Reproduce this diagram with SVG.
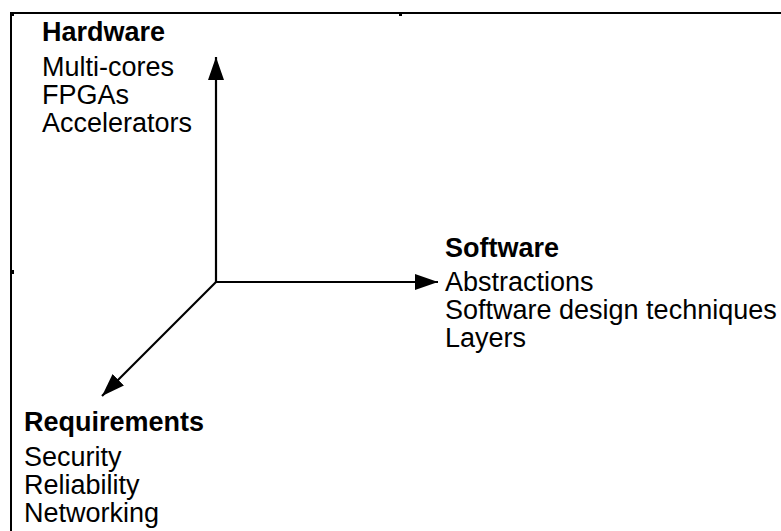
<svg xmlns="http://www.w3.org/2000/svg" width="781" height="531" viewBox="0 0 781 531">
<style>
.t{font-family:"Liberation Sans",Arial,sans-serif;font-size:27px;fill:#000}
.b{font-weight:bold}
.ax{stroke:#000;stroke-width:2.2;fill:none}
</style>
<defs>
<marker id="ah" markerWidth="26" markerHeight="18" refX="23" refY="8" orient="auto" markerUnits="userSpaceOnUse">
<path d="M0,0 L23,8 L0,16 Z" fill="#000"/>
</marker>
</defs>
<rect width="781" height="531" fill="#fff"/>
<g id="frame">
<line x1="10" y1="13" x2="781" y2="13" stroke="#000" stroke-width="2"/>
<line x1="11" y1="13" x2="11" y2="531" stroke="#000" stroke-width="2"/>
<rect x="10" y="12" width="4" height="4" fill="#000"/>
<rect x="399" y="13" width="3" height="3" fill="#000"/>
<rect x="10" y="270" width="4" height="4" fill="#000"/>
</g>
<g id="connectors">
<line class="ax" x1="216" y1="283" x2="216" y2="57" marker-end="url(#ah)"/>
<line class="ax" x1="215" y1="282" x2="438" y2="282" marker-end="url(#ah)"/>
<line class="ax" x1="216" y1="282" x2="102" y2="396" marker-end="url(#ah)"/>
</g>
<g id="hardware">
<text class="t b" x="42" y="41">Hardware</text>
<text class="t" x="42" y="76">Multi-cores</text>
<text class="t" x="42" y="104">FPGAs</text>
<text class="t" x="42" y="132">Accelerators</text>
</g>
<g id="software">
<text class="t b" x="445" y="257">Software</text>
<text class="t" x="445" y="291">Abstractions</text>
<text class="t" x="445" y="319">Software design techniques</text>
<text class="t" x="445" y="347">Layers</text>
</g>
<g id="requirements">
<text class="t b" x="24" y="431">Requirements</text>
<text class="t" x="24" y="466">Security</text>
<text class="t" x="24" y="494">Reliability</text>
<text class="t" x="24" y="522">Networking</text>
</g>
</svg>
